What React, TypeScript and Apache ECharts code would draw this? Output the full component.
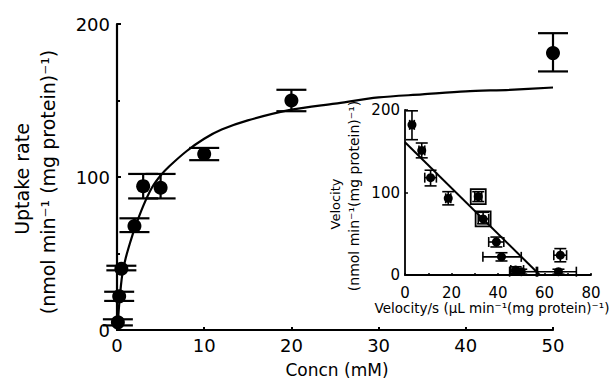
import React, { useEffect, useRef } from "react";
import * as echarts from "echarts";

// Main plot: uptake rate vs concentration
const mainConc = [0.1, 0.25, 0.5, 2, 3, 5, 10, 20, 50];
const mainRate = [5, 22, 40, 68, 94, 93, 115, 150, 181];
const mainErrLo = [3, 19, 39, 64, 86, 86, 111, 143, 169];
const mainErrHi = [7, 25, 42, 73, 102, 102, 119, 157, 194];

// Fitted curve
const curveX = [0.1, 0.3, 0.6, 1, 1.5, 2, 3, 4, 5, 6, 8, 10, 12, 15, 20, 25, 30, 35, 40, 45, 50];
const curveY = [5, 20, 36, 47, 57, 66, 81, 93, 101, 107, 117, 125, 131, 137, 144, 148, 152, 154, 156, 157, 158.5];

// Inset: Eadie-Hofstee plot
const insetVs = [3, 7.2, 11, 18.6, 31.5, 33.6, 39.3, 41.5, 47.6, 50, 66.8, 66];
const insetV = [182, 151, 118, 93, 95, 68, 40, 22, 6, 4, 24, 4];
const insetYLo = [164, 142, 108, 85, 89, 62, 34, 17, 2, 1, 16, 1];
const insetYHi = [199, 160, 127, 101, 101, 76, 46, 27, 10, 7, 32, 7];
const insetXLo = [2, 6, 8.5, 17.5, 30, 31.5, 36, 33.5, 45.5, 45, 64, 56.5];
const insetXHi = [4, 8.5, 13.5, 19.7, 33, 36, 42.5, 50, 51, 57, 69.5, 73.7];
const boxedIdx = [4, 5];
const fitX = [0, 58];
const fitY = [161, 0];

const FONT = "DejaVu Sans";

function errYSeries(xi: number, yi: number, xs: number[], lo: number[], hi: number[], cap: number, lw: number) {
  return {
    type: "custom",
    xAxisIndex: xi,
    yAxisIndex: yi,
    z: 3,
    data: xs.map((x, i) => [x, lo[i], hi[i]]),
    renderItem: (_p: any, api: any) => {
      const a = api.coord([api.value(0), api.value(1)]);
      const b = api.coord([api.value(0), api.value(2)]);
      const st = { stroke: "#000", lineWidth: lw };
      return {
        type: "group",
        children: [
          { type: "line", shape: { x1: a[0], y1: a[1], x2: b[0], y2: b[1] }, style: st },
          { type: "line", shape: { x1: a[0] - cap / 2, y1: a[1], x2: a[0] + cap / 2, y2: a[1] }, style: st },
          { type: "line", shape: { x1: b[0] - cap / 2, y1: b[1], x2: b[0] + cap / 2, y2: b[1] }, style: st },
        ],
      };
    },
  };
}

function errXSeries(xi: number, yi: number, ys: number[], lo: number[], hi: number[], cap: number, lw: number) {
  return {
    type: "custom",
    xAxisIndex: xi,
    yAxisIndex: yi,
    z: 3,
    encode: { x: [1, 2], y: 0 },
    data: ys.map((y, i) => [y, lo[i], hi[i]]),
    renderItem: (_p: any, api: any) => {
      const a = api.coord([api.value(1), api.value(0)]);
      const b = api.coord([api.value(2), api.value(0)]);
      const st = { stroke: "#000", lineWidth: lw };
      return {
        type: "group",
        children: [
          { type: "line", shape: { x1: a[0], y1: a[1], x2: b[0], y2: b[1] }, style: st },
          { type: "line", shape: { x1: a[0], y1: a[1] - cap / 2, x2: a[0], y2: a[1] + cap / 2 }, style: st },
          { type: "line", shape: { x1: b[0], y1: b[1] - cap / 2, x2: b[0], y2: b[1] + cap / 2 }, style: st },
        ],
      };
    },
  };
}

export default function App() {
  const ref = useRef<HTMLDivElement>(null);
  useEffect(() => {
    if (!ref.current) return;
    const chart = echarts.init(ref.current, undefined, { renderer: "svg" });
    const axisLine = (w: number) => ({ show: true, lineStyle: { color: "#000", width: w } });
    chart.setOption({
      animation: false,
      backgroundColor: "#fff",
      textStyle: { fontFamily: FONT, color: "#000" },
      grid: [
        { left: 117, right: 62, top: 24, bottom: 53 },
        { left: 405, right: 24, top: 110, bottom: 108 },
      ],
      xAxis: [
        {
          gridIndex: 0, type: "value", min: 0, max: 50, interval: 10,
          axisLine: axisLine(2.2),
          axisTick: { show: true, inside: true, length: 3, lineStyle: { color: "#000", width: 2 } },
          axisLabel: { fontSize: 18, color: "#000", margin: 6, fontFamily: FONT },
          splitLine: { show: false },
        },
        {
          gridIndex: 1, type: "value", min: 0, max: 80, interval: 20,
          axisLine: axisLine(1.8),
          axisTick: { show: true, inside: true, length: 2, lineStyle: { color: "#000", width: 1.5 } },
          minorTick: { show: true, splitNumber: 2, length: 2, lineStyle: { color: "#000", width: 1.5 } },
          axisLabel: { fontSize: 15, color: "#000", margin: 10, fontFamily: FONT },
          splitLine: { show: false },
        },
      ],
      yAxis: [
        {
          gridIndex: 0, type: "value", min: 0, max: 200, interval: 100,
          axisLine: axisLine(2.2),
          axisTick: { show: true, inside: true, length: 4, lineStyle: { color: "#000", width: 2 } },
          minorTick: { show: true, splitNumber: 2, length: 3, lineStyle: { color: "#000", width: 2 } },
          axisLabel: { fontSize: 18, color: "#000", margin: 7, fontFamily: FONT },
          splitLine: { show: false },
        },
        {
          gridIndex: 1, type: "value", min: 0, max: 200, interval: 100,
          axisLine: axisLine(1.8),
          axisTick: { show: true, inside: true, length: 3, lineStyle: { color: "#000", width: 1.5 } },
          axisLabel: { fontSize: 15, color: "#000", margin: 5, fontFamily: FONT },
          splitLine: { show: false },
        },
      ],
      graphic: [
        { type: "text", x: 22, y: 179, rotation: Math.PI / 2,
          style: { text: "Uptake rate", font: `19px "${FONT}"`, fill: "#000", align: "center", verticalAlign: "middle" } },
        { type: "text", x: 48, y: 182, rotation: Math.PI / 2,
          style: { text: "(nmol min⁻¹ (mg protein)⁻¹)", font: `19px "${FONT}"`, fill: "#000", align: "center", verticalAlign: "middle" } },
        { type: "text", x: 337, y: 370,
          style: { text: "Concn (mM)", font: `17px "${FONT}"`, fill: "#000", align: "center", verticalAlign: "middle" } },
        { type: "text", x: 335, y: 204, rotation: Math.PI / 2,
          style: { text: "Velocity", font: `13px "${FONT}"`, fill: "#000", align: "center", verticalAlign: "middle" } },
        { type: "text", x: 354, y: 196, rotation: Math.PI / 2,
          style: { text: "(nmol min⁻¹(mg protein)⁻¹)", font: `14px "${FONT}"`, fill: "#000", align: "center", verticalAlign: "middle" } },
        { type: "text", x: 492, y: 308,
          style: { text: "Velocity/s (µL min⁻¹(mg protein)⁻¹)", font: `13.5px "${FONT}"`, fill: "#000", align: "center", verticalAlign: "middle" } },
      ],
      series: [
        {
          type: "line", xAxisIndex: 0, yAxisIndex: 0, smooth: 0.3, symbol: "none",
          data: curveX.map((x, i) => [x, curveY[i]]),
          lineStyle: { color: "#000", width: 2.2 }, z: 2,
        },
        errYSeries(0, 0, mainConc, mainErrLo, mainErrHi, 30, 2.2),
        {
          type: "scatter", xAxisIndex: 0, yAxisIndex: 0, symbol: "circle", symbolSize: 14,
          data: mainConc.map((x, i) => [x, mainRate[i]]),
          itemStyle: { color: "#000", opacity: 1 }, z: 4,
        },
        {
          type: "line", xAxisIndex: 1, yAxisIndex: 1, symbol: "none",
          data: fitX.map((x, i) => [x, fitY[i]]),
          lineStyle: { color: "#000", width: 2 }, z: 2,
        },
        errYSeries(1, 1, insetVs, insetYLo, insetYHi, 12, 1.6),
        errXSeries(1, 1, insetV, insetXLo, insetXHi, 10, 1.6),
        {
          type: "scatter", xAxisIndex: 1, yAxisIndex: 1, symbol: "circle", symbolSize: 9,
          data: insetVs.map((x, i) => [x, insetV[i]]),
          itemStyle: { color: "#000", opacity: 1 }, z: 4,
        },
        {
          type: "scatter", xAxisIndex: 1, yAxisIndex: 1, symbol: "rect", symbolSize: 15,
          data: boxedIdx.map((i) => [insetVs[i], insetV[i]]),
          itemStyle: { color: "transparent", borderColor: "#000", borderWidth: 1.8, opacity: 1 }, z: 5,
        },
      ],
    });
    return () => chart.dispose();
  }, []);
  return <div ref={ref} style={{ width: 615, height: 383, position: "absolute", left: 0, top: 0 }} />;
}
